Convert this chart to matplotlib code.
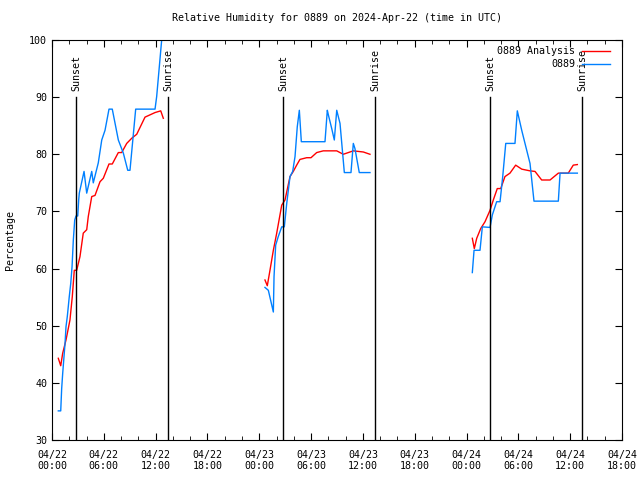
import numpy as np
import matplotlib
matplotlib.use("Agg")
import matplotlib.pyplot as plt
from matplotlib.ticker import MultipleLocator

plt.rcParams['font.family'] = ['DejaVu Sans Mono']
plt.rcParams['font.size'] = 7.2

# hours since 2024-04-22 00:00 UTC
an1_t = [0.73, 1.01, 1.24, 1.62, 2.08, 2.35, 2.58, 2.86, 3.24, 3.62, 4.02, 4.20, 4.60, 4.98,
         5.56, 5.94, 6.60, 6.98, 7.68, 8.07, 8.65, 9.23, 9.81, 10.77, 11.93, 12.59, 12.89]
an1_v = [44.3, 43.0, 45.2, 47.5, 51.0, 55.1, 59.7, 59.7, 62.1, 66.2, 66.8, 69.1, 72.6, 72.8,
         75.2, 75.8, 78.3, 78.3, 80.3, 80.3, 81.9, 82.8, 83.5, 86.5, 87.3, 87.6, 86.3]
an2_t = [24.66, 24.93, 25.24, 25.63, 26.02, 26.60, 26.98, 27.56, 27.94, 28.33, 28.71, 29.49,
         29.99, 30.65, 31.41, 32.97, 33.73, 34.89, 36.05, 36.82]
an2_v = [58.0, 57.0, 59.7, 63.2, 66.2, 71.1, 72.0, 76.1, 77.0, 78.1, 79.1, 79.4,
         79.4, 80.3, 80.6, 80.6, 80.0, 80.6, 80.4, 80.0]
an3_t = [48.67, 48.90, 49.18, 49.64, 50.14, 50.72, 51.10, 51.56, 51.96, 52.45, 53.03, 53.69,
         54.39, 55.35, 55.93, 56.70, 57.67, 58.63, 59.78, 60.36, 60.83]
an3_v = [65.3, 63.5, 65.3, 67.0, 68.2, 70.2, 72.0, 74.0, 74.0, 76.1, 76.7, 78.1,
         77.4, 77.1, 77.0, 75.5, 75.5, 76.7, 76.7, 78.1, 78.2]

ob1_t = [0.73, 1.01, 1.12, 1.24, 1.39, 1.51, 1.62, 1.77, 1.89, 2.00, 2.17, 2.32, 2.47, 2.63,
         2.78, 2.98, 3.09, 3.16, 3.71, 4.02, 4.60, 4.78, 5.36, 5.76, 6.14, 6.60, 6.98, 7.68,
         8.26, 8.77, 9.03, 9.69, 11.93, 12.12, 12.70]
ob1_v = [35.1, 35.1, 39.0, 41.7, 44.6, 46.9, 49.8, 51.6, 53.4, 55.1, 57.4, 60.3, 65.0, 68.5,
         69.2, 69.2, 72.0, 73.2, 77.0, 73.2, 77.0, 75.0, 78.5, 82.5, 84.2, 87.9, 87.9, 82.5,
         80.2, 77.2, 77.2, 87.9, 87.9, 90.1, 100.0]
ob2_t = [24.66, 25.05, 25.63, 25.71, 25.90, 26.20, 26.60, 26.90, 27.18, 27.56, 27.87, 28.14,
         28.40, 28.64, 28.87, 31.61, 31.88, 32.00, 32.39, 32.69, 32.97, 33.35, 33.85, 34.62,
         34.89, 35.08, 35.58, 36.82]
ob2_v = [56.7, 56.2, 52.4, 58.6, 64.1, 65.6, 67.3, 67.3, 71.4, 76.1, 77.0, 79.6,
         84.8, 87.7, 82.2, 82.2, 87.7, 86.9, 84.5, 82.5, 87.7, 85.4, 76.8, 76.8,
         81.9, 81.0, 76.8, 76.8]
ob3_t = [48.67, 48.87, 49.56, 49.83, 50.72, 50.99, 51.49, 51.88, 52.19, 52.54, 53.61, 53.88,
         54.39, 54.77, 55.35, 55.81, 58.63, 58.83, 60.83]
ob3_v = [59.3, 63.2, 63.2, 67.3, 67.2, 69.4, 71.7, 71.7, 76.1, 81.9, 81.9, 87.6,
         84.2, 81.9, 78.4, 71.8, 71.8, 76.7, 76.7]

sunset = [2.78, 26.76, 50.74]
sunrise = [13.42, 37.41, 61.39]

xticks = np.arange(0, 67, 6)
xlabels = ['04/22\n00:00', '04/22\n06:00', '04/22\n12:00', '04/22\n18:00',
           '04/23\n00:00', '04/23\n06:00', '04/23\n12:00', '04/23\n18:00',
           '04/24\n00:00', '04/24\n06:00', '04/24\n12:00', '04/24\n18:00']

fig = plt.figure(figsize=(6.4, 4.8), dpi=100)
ax = fig.add_axes([0.08125, 0.0833, 0.8906, 0.8334])

for t, v in [(an1_t, an1_v), (an2_t, an2_v), (an3_t, an3_v)]:
    ax.plot(t, v, color='#ff0000', lw=1)
for t, v in [(ob1_t, ob1_v), (ob2_t, ob2_v), (ob3_t, ob3_v)]:
    ax.plot(t, v, color='#0080ff', lw=1)
# legend entries
la, = ax.plot([], [], color='#ff0000', lw=1, label='0889 Analysis')
lb, = ax.plot([], [], color='#0080ff', lw=1, label='0889')

for s in sunset:
    ax.plot([s, s], [30, 90], color='k', lw=1)
    ax.text(s, 91, 'Sunset', rotation=90, ha='center', va='bottom')
for s in sunrise:
    ax.plot([s, s], [30, 90], color='k', lw=1)
    ax.text(s, 91, 'Sunrise', rotation=90, ha='center', va='bottom')

ax.set_xlim(0, 66)
ax.set_ylim(30, 100)
ax.set_xticks(xticks)
ax.set_xticklabels(xlabels)
ax.xaxis.set_minor_locator(MultipleLocator(2))
ax.set_yticks(np.arange(30, 101, 10))
ax.tick_params(which='both', direction='in', top=True, right=True, labelsize=7.2)
ax.tick_params(which='major', length=5)
ax.tick_params(which='minor', length=3)
ax.tick_params(axis='x', pad=7)

ax.set_ylabel('Percentage', labelpad=10)
ax.set_title('Relative Humidity for 0889 on 2024-Apr-22 (time in UTC)', fontsize=7.2, pad=14)

ax.legend([la, lb], ['0889 Analysis', '0889'], loc='upper right', markerfirst=False,
          frameon=False, handlelength=2.8, borderaxespad=0, borderpad=0,
          labelspacing=0.3, handletextpad=0.7, bbox_to_anchor=(0.979, 0.984))

fig.savefig('out.png', dpi=100)
